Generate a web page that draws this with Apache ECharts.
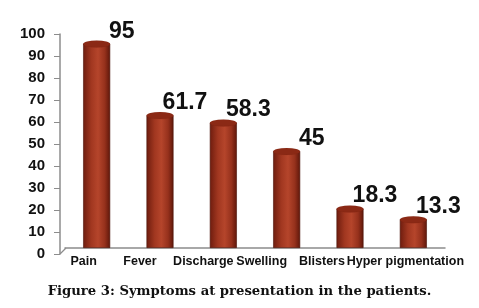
<!DOCTYPE html>
<html lang="en" style="height: 100%">
<head>
<meta charset="utf-8">
<title>Symptoms at presentation</title>
</head>
<body style="height: 100%; margin: 0; background: #fff">
<div id="container" style="width: 479px; height: 308px"></div>

<script type="text/javascript" src="https://cdn.jsdelivr.net/npm/echarts@6/dist/echarts.min.js"></script>

<script type="text/javascript">
var categories = ['Pain', 'Fever', 'Discharge', 'Swelling', 'Blisters', 'Hyper pigmentation'];
var values = [95, 61.7, 58.3, 45, 18.3, 13.3];
var yMin = 0, yMax = 100, yStep = 10;
var caption = 'Figure 3: Symptoms at presentation in the patients.';

// labels in the picture sit a little left of their bars (3D front plane)
var labelShift = [-13, -20, -20, -25, -28, -8];

var dom = document.getElementById('container');
var myChart = echarts.init(dom);

var rich = {};
labelShift.forEach(function (s, i) {
    rich['s' + i] = {
        fontFamily: 'Liberation Sans, Arial, sans-serif',
        fontWeight: 'bold',
        fontSize: 12.5,
        color: '#111',
        padding: [0, -2 * s, 0, 0]
    };
});

var barColor = new echarts.graphic.LinearGradient(0, 0, 1, 0, [
    {offset: 0, color: '#6e1c0e'},
    {offset: 0.3, color: '#a13720'},
    {offset: 0.55, color: '#b5452b'},
    {offset: 0.8, color: '#96311c'},
    {offset: 1, color: '#5e160a'}
]);

var option = {
    animation: false,
    title: {
        text: caption,
        left: 'center',
        top: 285,
        padding: [0, 0, 0, 14],
        textStyle: {
            fontFamily: 'DejaVu Serif, serif',
            fontWeight: 'bold',
            fontSize: 13.2,
            color: '#111'
        }
    },
    grid: [
        {left: 60, right: 34, top: 34, bottom: 54},
        {left: 65, right: 34, top: 33, bottom: 60}
    ],
    xAxis: [
        {gridIndex: 0, type: 'category', data: categories, show: false},
        {
            gridIndex: 1,
            type: 'category',
            data: categories,
            axisLine: {lineStyle: {color: '#8c8c8c', width: 1.5}},
            axisTick: {show: false},
            axisLabel: {
                interval: 0,
                margin: 7,
                formatter: function (v, i) { return '{s' + i + '|' + v + '}'; },
                rich: rich
            }
        }
    ],
    yAxis: [
        {
            gridIndex: 0,
            type: 'value',
            min: yMin,
            max: yMax,
            interval: yStep,
            axisLine: {show: true, lineStyle: {color: '#8c8c8c', width: 1.5}},
            axisTick: {show: true, length: 6, lineStyle: {color: '#8c8c8c'}},
            splitLine: {show: false},
            axisLabel: {
                margin: 15,
                fontFamily: 'Liberation Sans, Arial, sans-serif',
                fontWeight: 'bold',
                fontSize: 15,
                color: '#111'
            }
        },
        {gridIndex: 1, type: 'value', min: yMin, max: yMax, show: false}
    ],
    graphic: [{
        type: 'line',
        shape: {x1: 60, y1: 254, x2: 66, y2: 248},
        style: {stroke: '#8c8c8c', lineWidth: 1.2}
    }],
    series: [
        {
            type: 'bar',
            xAxisIndex: 1,
            yAxisIndex: 1,
            data: values,
            barWidth: 27,
            itemStyle: {color: barColor, borderColor: '#4a1006', borderWidth: 0.6},
            label: {
                show: true,
                position: 'top',
                distance: 1,
                offset: [25, 0],
                fontFamily: 'Liberation Sans, Arial, sans-serif',
                fontWeight: 'bold',
                fontSize: 23,
                color: '#111'
            },
            z: 2
        },
        {
            type: 'pictorialBar',
            xAxisIndex: 1,
            yAxisIndex: 1,
            data: values,
            symbol: 'circle',
            symbolSize: [27, 7],
            symbolPosition: 'end',
            symbolOffset: [0, '-50%'],
            itemStyle: {color: '#8b2915', borderColor: '#2a0603', borderWidth: 1},
            z: 3
        }
    ]
};

myChart.setOption(option);
window.addEventListener('resize', myChart.resize);
</script>
</body>
</html>
